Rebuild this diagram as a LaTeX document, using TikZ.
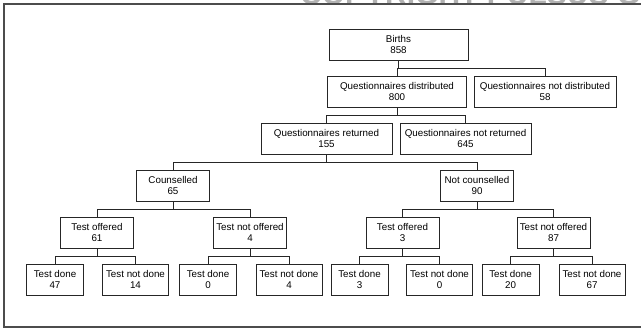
\documentclass[tikz,border=0pt]{standalone}
\usepackage{fontspec}
\setmainfont{Liberation Sans}
\usetikzlibrary{backgrounds}
\tikzset{
  countbox/.style={draw=black!85,line width=0.9pt,minimum height=31pt,
    inner sep=2pt,align=center,font=\fontsize{9.8}{11.7}\selectfont},
  widebox/.style={countbox,minimum width=139pt},
  midbox/.style={countbox,minimum width=131pt},
  narrowbox/.style={countbox,minimum width=73pt},
  donebox/.style={countbox,minimum width=57pt},
  notdonebox/.style={countbox,minimum width=66pt},
  link/.style={line width=0.8pt,black!85},
  outer/.style={line width=1.3pt,black!70},
  wmark/.style={font=\bfseries\fontsize{30}{30}\selectfont,text=black!30,
    inner sep=0pt},
}
\begin{document}
\begin{tikzpicture}[x=1pt,y=-1pt]
  \useasboundingbox (0,0) rectangle (641,331);
  \node[wmark,anchor=base west] (wm) at (300,5) {COPYRIGHT PULSUS GROUP};
  \draw[outer] (650,4) -- (4,4) -- (4,327) -- (650,327);
  \node[widebox] (births) at (398.5,44.5) {Births\\858};
  \node[widebox] (qdist) at (397,91.5) {Questionnaires distributed\\800};
  \node[widebox,minimum width=142pt] (qnodist) at (545,91.5)
    {Questionnaires not distributed\\58};
  \node[midbox] (qret) at (326.5,138.5) {Questionnaires returned\\155};
  \node[midbox] (qnoret) at (465.5,138.5) {Questionnaires not returned\\645};
  \node[narrowbox] (couns) at (173,185.5) {Counselled\\65};
  \node[narrowbox] (nocouns) at (477,185.5) {Not counselled\\90};
  \node[narrowbox] (toffl) at (97,232.5) {Test offered\\61};
  \node[narrowbox] (tnoffl) at (250,232.5) {Test not offered\\4};
  \node[narrowbox] (toffr) at (402.5,232.5) {Test offered\\3};
  \node[narrowbox] (tnoffr) at (553.5,232.5) {Test not offered\\87};
  \node[donebox] (tda) at (55,279.5) {Test done\\47};
  \node[notdonebox] (tnda) at (135.5,279.5) {Test not done\\14};
  \node[donebox] (tdb) at (208,279.5) {Test done\\0};
  \node[notdonebox] (tndb) at (289,279.5) {Test not done\\4};
  \node[donebox] (tdc) at (359.5,279.5) {Test done\\3};
  \node[notdonebox] (tndc) at (439.5,279.5) {Test not done\\0};
  \node[donebox] (tdd) at (510.5,279.5) {Test done\\20};
  \node[notdonebox] (tndd) at (592,279.5) {Test not done\\67};
  \begin{scope}[on background layer]
    \foreach \p/\l/\r in {births/qdist/qnodist,qdist/qret/qnoret,
      qret/couns/nocouns,couns/toffl/tnoffl,nocouns/toffr/tnoffr,
      toffl/tda/tnda,tnoffl/tdb/tndb,toffr/tdc/tndc,tnoffr/tdd/tndd}{
      \draw[link] (\p.south) -- ++(0,8) coordinate (bar);
      \draw[link] (\l.north) |- (bar) -| (\r.north);
    }
  \end{scope}
\end{tikzpicture}
\end{document}
